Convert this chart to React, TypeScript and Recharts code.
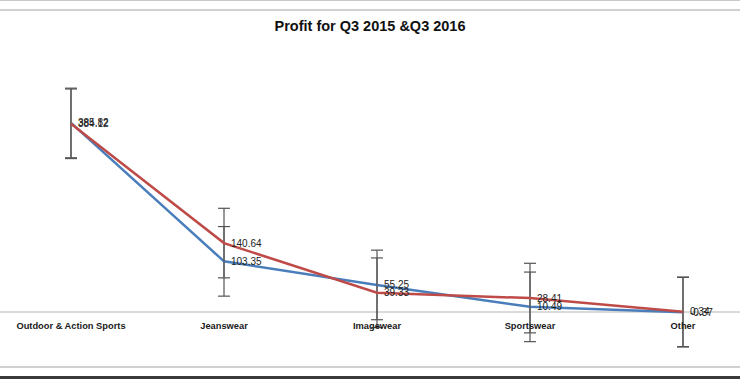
import { ErrorBar, LabelList, Line, LineChart, ReferenceLine, XAxis, YAxis } from "recharts";

const categories = ["Outdoor & Action Sports", "Jeanswear", "Imagewear", "Sportswear", "Other"];
const profit2015 = [385.82, 103.35, 55.25, 10.49, -0.37];
const profit2016 = [384.12, 140.64, 39.33, 28.41, 0.34];
const error2015 = [71, 71, 71, 71, 71];
const error2016 = [71, 71, 71, 71, 71];

const data = categories.map((name, i) => ({
  name,
  q2015: profit2015[i],
  q2016: profit2016[i],
  e2015: error2015[i],
  e2016: error2016[i],
}));

const CategoryTick = (props: any) => {
  const { x, y, payload } = props;
  return (
    <text
      x={x}
      y={y}
      dy={-40}
      textAnchor="middle"
      fontFamily="'Liberation Sans', Arial, sans-serif"
      fontWeight="bold"
      fontSize={9.3}
      fill="#1a1a1a"
    >
      {payload.value}
    </text>
  );
};

export default function App() {
  return (
    <div style={{ position: "relative", width: 740, height: 380, background: "#fff", overflow: "hidden" }}>
      <style>{"body{margin:0}"}</style>
      <div style={{ position: "absolute", left: 0, top: 0, width: 740, height: 1, background: "#c8c8c8" }} />
      <div style={{ position: "absolute", left: 0, top: 9, width: 740, height: 2, background: "#d0d0d0" }} />
      <div style={{ position: "absolute", left: 0, top: 366, width: 740, height: 2, background: "#d0d0d0" }} />
      <div style={{ position: "absolute", left: 0, top: 376, width: 740, height: 3, background: "#3a3a3a" }} />
      <div
        style={{
          position: "absolute",
          left: 0,
          top: 18,
          width: 740,
          textAlign: "center",
          fontFamily: "'Liberation Sans', Arial, sans-serif",
          fontWeight: "bold",
          fontSize: 14.5,
          lineHeight: "17px",
          color: "#111",
        }}
      >
        Profit for Q3 2015 &amp;Q3 2016
      </div>
      <LineChart width={740} height={380} data={data} margin={{ top: 67, right: 0, bottom: 0, left: 0 }}>
        <XAxis
          dataKey="name"
          height={19}
          axisLine={false}
          tickLine={false}
          padding={{ left: 71, right: 57 }}
          tick={<CategoryTick />}
          interval={0}
        />
        <YAxis hide domain={[-100, 500]} tickCount={7} />
        <ReferenceLine y={0} stroke="#b4b4b4" strokeWidth={1} />
        <Line
          dataKey="q2015"
          stroke="#4a7ebb"
          strokeWidth={2.5}
          dot={false}
          isAnimationActive={false}
        >
          <ErrorBar dataKey="e2015" direction="y" width={6} stroke="#555" strokeWidth={1.2} isAnimationActive={false} />
          <LabelList dataKey="q2015" position="right" offset={7} fontSize={10} fill="#222" fontFamily="'Liberation Sans', Arial, sans-serif" />
        </Line>
        <Line
          dataKey="q2016"
          stroke="#be4b48"
          strokeWidth={2.5}
          dot={false}
          isAnimationActive={false}
        >
          <ErrorBar dataKey="e2016" direction="y" width={6} stroke="#555" strokeWidth={1.2} isAnimationActive={false} />
          <LabelList dataKey="q2016" position="right" offset={7} fontSize={10} fill="#222" fontFamily="'Liberation Sans', Arial, sans-serif" />
        </Line>
      </LineChart>
    </div>
  );
}
